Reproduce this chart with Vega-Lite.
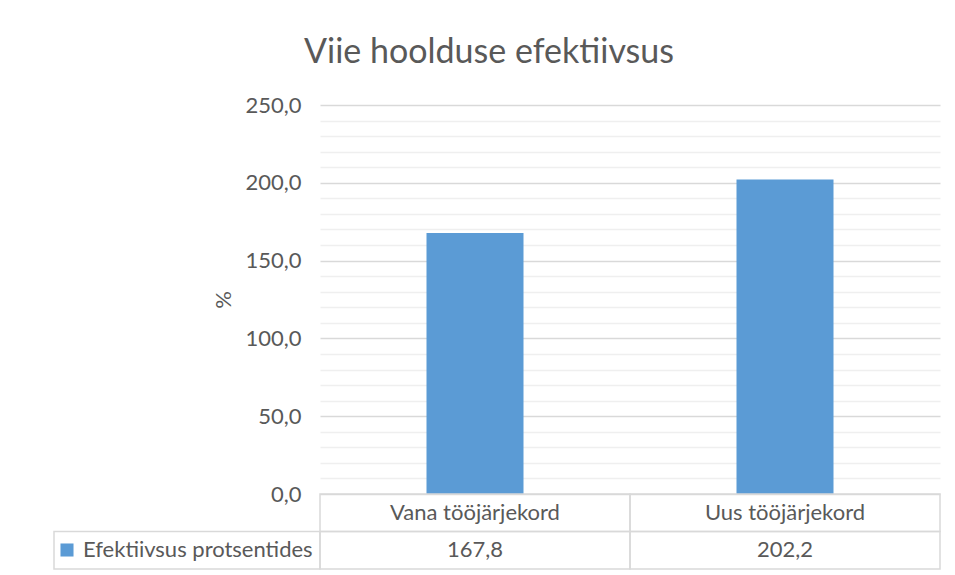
{
  "$schema": "https://vega.github.io/schema/vega-lite/v6.json",
  "padding": {"left": 53, "top": 36, "right": 16, "bottom": 6},
  "background": "white",
  "title": {
    "text": "Viie hoolduse efektiivsus",
    "font": "Lato",
    "fontSize": 34,
    "fontWeight": "normal",
    "color": "#595959",
    "anchor": "middle",
    "frame": "bounds",
    "offset": 24,
    "dx": -8
  },
  "datasets": {
    "main": [
      {"kategooria": "Vana tööjärjekord", "vaartus": 167.8, "seeria": "Efektiivsus protsentides"},
      {"kategooria": "Uus tööjärjekord", "vaartus": 202.2, "seeria": "Efektiivsus protsentides"}
    ]
  },
  "columns": 2,
  "spacing": 0,
  "bounds": "flush",
  "concat": [
    {
      "width": 266,
      "height": 389,
      "data": {"name": "main"},
      "mark": {"type": "text", "opacity": 0},
      "encoding": {"text": {"value": ""}}
    },
    {
      "width": 620,
      "height": 389,
      "data": {"name": "main"},
      "mark": {"type": "bar", "size": 97},
      "encoding": {
        "x": {
          "field": "kategooria",
          "type": "nominal",
          "sort": null,
          "axis": null,
          "scale": {"paddingInner": 0, "paddingOuter": 0}
        },
        "y": {
          "field": "vaartus",
          "type": "quantitative",
          "scale": {"domain": [0, 250], "nice": false},
          "axis": {
            "values": [0, 10, 20, 30, 40, 50, 60, 70, 80, 90, 100, 110, 120, 130, 140, 150, 160, 170, 180, 190, 200, 210, 220, 230, 240, 250],
            "format": ".1f",
            "labelExpr": "datum.value % 50 === 0 ? datum.label : ''",
            "labelOverlap": false,
            "grid": true,
            "gridColor": {"condition": {"test": "datum.value % 50 === 0", "value": "#d9d9d9"}, "value": "#efefef"},
            "gridWidth": 1.3,
            "ticks": false,
            "domain": false,
            "labelPadding": 19,
            "labelFont": "Lato",
            "labelFontSize": 22,
            "labelColor": "#595959",
            "title": "%",
            "titleFont": "Lato",
            "titleFontSize": 22,
            "titleFontWeight": "normal",
            "titleColor": "#595959",
            "titlePadding": 9
          }
        },
        "color": {
          "field": "seeria",
          "type": "nominal",
          "scale": {"range": ["#5b9bd5"]},
          "legend": {
            "orient": "none",
            "legendX": 2,
            "legendY": 434,
            "title": null,
            "padding": 0,
            "symbolType": "square",
            "symbolSize": 170,
            "symbolStrokeWidth": 0,
            "symbolOpacity": 1,
            "labelOffset": 5,
            "labelLimit": 0,
            "labelFont": "Lato",
            "labelFontSize": 22,
            "labelColor": "#595959"
          }
        }
      }
    },
    {
      "width": 266,
      "height": 75,
      "data": {"name": "main"},
      "transform": [{"aggregate": [{"op": "count", "as": "n"}]}],
      "mark": {"type": "rect", "filled": false, "stroke": "#d9d9d9", "strokeWidth": 1.5},
      "encoding": {
        "y": {
          "datum": "val",
          "type": "nominal",
          "scale": {"domain": ["cat", "val"], "paddingInner": 0, "paddingOuter": 0},
          "axis": null
        }
      }
    },
    {
      "width": 620,
      "height": 75,
      "data": {"name": "main"},
      "encoding": {
        "x": {
          "field": "kategooria",
          "type": "nominal",
          "sort": null,
          "axis": null,
          "scale": {"paddingInner": 0, "paddingOuter": 0}
        }
      },
      "layer": [
        {
          "mark": {"type": "rect", "filled": false, "stroke": "#d9d9d9", "strokeWidth": 1.5},
          "encoding": {
            "y": {"datum": "cat", "type": "nominal", "scale": {"domain": ["cat", "val"], "paddingInner": 0, "paddingOuter": 0}, "axis": null}
          }
        },
        {
          "mark": {"type": "rect", "filled": false, "stroke": "#d9d9d9", "strokeWidth": 1.5},
          "encoding": {
            "y": {"datum": "val", "type": "nominal", "axis": null}
          }
        },
        {
          "mark": {"type": "text", "font": "Lato", "fontSize": 22, "color": "#595959"},
          "encoding": {
            "y": {"datum": "cat", "type": "nominal", "axis": null},
            "text": {"field": "kategooria", "type": "nominal"}
          }
        },
        {
          "mark": {"type": "text", "font": "Lato", "fontSize": 22, "color": "#595959"},
          "encoding": {
            "y": {"datum": "val", "type": "nominal", "axis": null},
            "text": {"field": "vaartus", "type": "quantitative", "format": ".1f"}
          }
        }
      ]
    }
  ],
  "config": {
    "view": {"stroke": null},
    "font": "Lato",
    "locale": {
      "number": {"decimal": ",", "thousands": " ", "grouping": [3], "currency": ["", " €"]}
    }
  }
}
